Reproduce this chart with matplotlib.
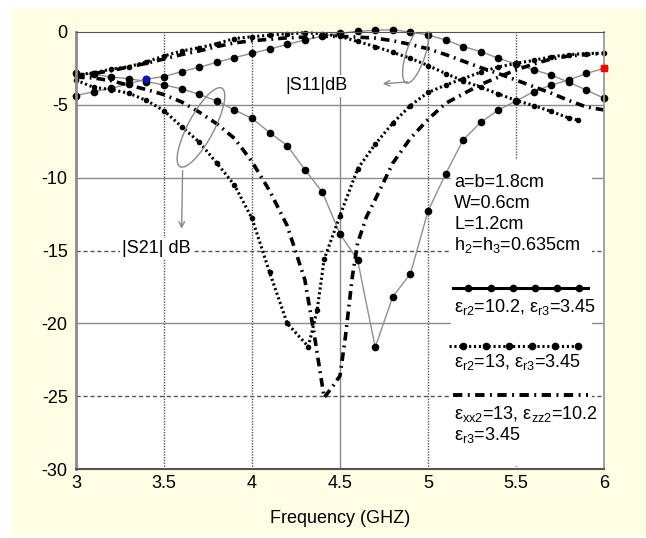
import matplotlib
matplotlib.use('Agg')
import matplotlib.pyplot as plt
from matplotlib.patches import Ellipse, Rectangle
from matplotlib.transforms import IdentityTransform
import numpy as np

plt.rcParams['font.family'] = ['Liberation Sans', 'DejaVu Sans']
plt.rcParams['mathtext.fontset'] = 'custom'
plt.rcParams['mathtext.rm'] = 'Liberation Sans'
plt.rcParams['mathtext.it'] = 'Liberation Sans:italic'
plt.rcParams['mathtext.sf'] = 'Liberation Sans'

# ---------------- data ----------------
freq = [3.0, 3.1, 3.2, 3.3, 3.4, 3.5, 3.6, 3.7, 3.8, 3.9,
        4.0, 4.1, 4.2, 4.3, 4.4, 4.5, 4.6, 4.7, 4.8, 4.9,
        5.0, 5.1, 5.2, 5.3, 5.4, 5.5, 5.6, 5.7, 5.8, 5.9, 6.0]

# config 1: er2=10.2, er3=3.45 (solid grey with dots)
s11_c1 = [-4.37, -4.10, -3.87, -3.55, -3.23, -3.06, -2.72, -2.42, -2.08, -1.76,
          -1.46, -1.17, -0.85, -0.55, -0.28, -0.10, 0.05, 0.12, 0.15, 0.0,
          -0.2, -0.55, -1.0, -1.35, -1.8, -2.2, -2.6, -2.95, -3.45, -3.98, -4.55]
s21_c1 = [-2.83, -2.9, -3.1, -3.2, -3.4, -3.64, -3.9, -4.28, -4.74, -5.35,
          -5.93, -6.9, -7.8, -9.45, -11.0, -13.86, -15.65, -21.64, -18.17, -16.6,
          -12.3, -9.75, -7.4, -6.2, -5.35, -4.74, -4.1, -3.64, -3.3, -2.84, -2.5]

# config 2: er2=13, er3=3.45 (dotted)
f_s11_c2 = [3.0, 3.1, 3.2, 3.3, 3.4, 3.5, 3.6, 3.7, 3.8, 3.9,
            4.0, 4.1, 4.2, 4.3, 4.4, 4.5, 4.6, 4.7, 4.8, 4.9,
            5.0, 5.1, 5.2, 5.3, 5.4, 5.5, 5.6, 5.7, 5.8, 5.85]
s11_c2 = [-2.95, -2.8, -2.55, -2.38, -2.05, -1.65, -1.3, -1.08, -0.8, -0.45,
          -0.32, -0.22, -0.12, -0.05, -0.12, -0.3, -0.65, -1.0, -1.4, -1.8,
          -2.3, -2.85, -3.35, -3.8, -4.25, -4.7, -5.05, -5.45, -5.9, -6.05]
f_s21_c2 = [3.0, 3.1, 3.2, 3.3, 3.4, 3.5, 3.6, 3.7, 3.8, 3.9, 4.0, 4.1, 4.2,
            4.32, 4.37, 4.41,
            4.5, 4.6, 4.7, 4.8, 4.9, 5.0, 5.1, 5.2, 5.3, 5.4, 5.5, 5.6, 5.7, 5.8, 5.9, 6.0]
s21_c2 = [-3.3, -3.8, -3.95, -4.2, -4.7, -5.4, -6.5, -7.55, -9.0, -10.5, -12.8, -16.5, -20.0,
          -21.6, -19.1, -15.6,
          -12.6, -9.4, -7.7, -6.25, -5.05, -4.15, -3.65, -3.2, -2.75, -2.4, -2.15, -1.95, -1.7, -1.55, -1.48, -1.45]

# config 3: exx2=13, ezz2=10.2, er3=3.45 (dash-dot)
s11_c3 = [-3.0, -2.85, -2.65, -2.4, -2.15, -1.85, -1.55, -1.3, -1.0, -0.75,
          -0.6, -0.5, -0.4, -0.35, -0.3, -0.3, -0.35, -0.42, -0.6, -0.85,
          -1.15, -1.55, -2.0, -2.45, -2.85, -3.3, -3.75, -4.2, -4.7, -5.15, -5.35]
f_s21_c3 = [3.0, 3.1, 3.2, 3.3, 3.4, 3.5, 3.6, 3.7, 3.8, 3.9, 4.0, 4.1, 4.2, 4.3,
            4.35, 4.41, 4.46, 4.5, 4.53, 4.57, 4.6, 4.65, 4.7,
            4.8, 4.9, 5.0, 5.1, 5.2, 5.3, 5.4, 5.5, 5.6, 5.7, 5.8, 5.9, 6.0]
s21_c3 = [-3.1, -3.15, -3.35, -3.65, -3.95, -4.3, -4.8, -5.5, -6.3, -7.3, -8.9, -10.9, -13.3, -17.0,
          -20.5, -25.1, -24.3, -23.6, -21.0, -16.8, -14.5, -12.7, -11.5,
          -9.0, -7.3, -6.0, -4.9, -4.25, -3.6, -3.1, -2.6, -2.2, -1.85, -1.65, -1.55, -1.46]

xticks = [3, 3.5, 4, 4.5, 5, 5.5, 6]
xticklabels = ['3', '3.5', '4', '4.5', '5', '5.5', '6']
yticks = [0, -5, -10, -15, -20, -25, -30]
yticklabels = ['0', '-5', '-10', '-15', '-20', '-25', '-30']

# ---------------- figure ----------------
W, H = 646, 538
fig = plt.figure(figsize=(W / 100, H / 100), dpi=100)
fig.patch.set_facecolor('white')
fig.patches.append(Rectangle((12 / W, 1 - 536 / H), (W - 12) / W, (536 - 8) / H,
                             transform=fig.transFigure, facecolor='#FFFDE4',
                             edgecolor='none', zorder=-10))

ax = fig.add_axes([76 / W, 1 - 469 / H, (604 - 76) / W, (469 - 32) / H])
ax.set_facecolor('white')
ax.set_xlim(3, 6)
ax.set_ylim(-30, 0)
ax.set_xticks(xticks)
ax.set_xticklabels(xticklabels)
ax.set_yticks(yticks)
ax.set_yticklabels(yticklabels)
ax.tick_params(length=0, labelsize=13)
ax.tick_params(axis='y', pad=6)
ax.tick_params(axis='x', pad=4)
ax.set_xlabel('Frequency (GHZ)', fontsize=13, labelpad=13)

# grid
for x in [3.5, 4.0, 5.0, 5.5]:
    ax.axvline(x, color='#555555', lw=1.0, ls=(0, (1, 1)), zorder=0.5)
ax.axvline(4.5, color='#8a8a8a', lw=1.0, zorder=0.5)
for y in [-5, -10, -20]:
    ax.axhline(y, color='#8a8a8a', lw=1.0, zorder=0.5)
for y in [-15, -25]:
    ax.axhline(y, color='#555555', lw=1.0, ls=(0, (3, 2)), zorder=0.5)

# spines
ax.spines['left'].set_color('#8a8a8a'); ax.spines['left'].set_linewidth(2.0)
ax.spines['right'].set_color('#9a9a9a'); ax.spines['right'].set_linewidth(1.3)
ax.spines['top'].set_color('#555555'); ax.spines['top'].set_linestyle((0, (1, 1)))
ax.spines['bottom'].set_color('#555555'); ax.spines['bottom'].set_linestyle((0, (2, 1)))
ax.spines['bottom'].set_linewidth(1.5)

# white legend background
ax.add_patch(Rectangle((5.13, -29.8), 0.8, 21.0, facecolor='white', edgecolor='none', zorder=0.8))

DASHDOT = (0, (2.4, 1.4, 0.5, 1.4))
DOTTED = (0, (0.7, 0.9))

# config 1
ax.plot(freq, s11_c1, color='#909090', lw=1.0, marker='o', ms=4.5,
        mfc='black', mec='black', zorder=2, clip_on=False)
ax.plot(freq, s21_c1, color='#909090', lw=1.0, marker='o', ms=4.5,
        mfc='black', mec='black', zorder=2, clip_on=False)
# config 2
ax.plot(f_s11_c2, s11_c2, color='black', lw=2.2, ls=DOTTED, dash_capstyle='butt',
        marker='o', ms=3, zorder=2, clip_on=False)
ax.plot(f_s21_c2, s21_c2, color='black', lw=2.2, ls=DOTTED, dash_capstyle='butt',
        marker='o', ms=3, zorder=2, clip_on=False)
# config 3
ax.plot(freq, s11_c3, color='black', lw=2.6, ls=DASHDOT, zorder=2, clip_on=False)
ax.plot(f_s21_c3, s21_c3, color='black', lw=2.6, ls=DASHDOT, zorder=2, clip_on=False)

# coloured markers
ax.plot([freq[4]], [s11_c1[4]], 'o', color='#1010c0', ms=4.5, zorder=3)
ax.plot([freq[-1]], [s21_c1[-1]], 's', color='red', ms=4.5, zorder=3, clip_on=False)

# labels
ax.text(4.19, -3.7, '|S11|dB', fontsize=13, va='center', ha='left', zorder=3,
        bbox=dict(facecolor='white', edgecolor='none', pad=1.5))
ax.text(3.26, -14.85, '|S21| dB', fontsize=13, va='center', ha='left', zorder=3,
        bbox=dict(facecolor='white', edgecolor='none', pad=1.5))

fig.canvas.draw()
def px(x, y):
    return ax.transData.transform((x, y))

e1 = Ellipse(px(4.93, -1.51), 61, 19, angle=72, transform=IdentityTransform(),
             facecolor='none', edgecolor='#8a8a8a', lw=1.0, zorder=3)
ax.add_patch(e1)
e2 = Ellipse(px(3.71, -6.55), 89, 26, angle=62, transform=IdentityTransform(),
             facecolor='none', edgecolor='#8a8a8a', lw=1.0, zorder=3)
ax.add_patch(e2)
ax.annotate('', xy=(4.727, -3.57), xytext=(4.90, -3.41),
            arrowprops=dict(arrowstyle='->', color='#8a8a8a', lw=1.0), zorder=3)
ax.annotate('', xy=(3.60, -13.7), xytext=(3.606, -9.33),
            arrowprops=dict(arrowstyle='->', color='#8a8a8a', lw=1.0), zorder=3)

# legend block
lx = 5.15
for i, s in enumerate(['a=b=1.8cm', 'W=0.6cm', 'L=1.2cm', 'h$_{2}$=h$_{3}$=0.635cm']):
    ax.text(lx, -10.3 - i * 1.45, s, fontsize=13, va='center', ha='left', zorder=3)

ax.plot([5.14, 5.91], [-17.6, -17.6], color='black', lw=2.2, zorder=3)
ax.plot(np.linspace(5.23, 5.86, 6), [-17.6] * 6, 'o', color='black', ms=4.5, zorder=3)
ax.text(lx, -18.85, 'ε$_{\\mathrm{r2}}$=10.2, ε$_{\\mathrm{r3}}$=3.45', fontsize=13,
        va='center', ha='left', zorder=3)

ax.plot([5.12, 5.87], [-21.55, -21.55], color='black', lw=2.2, ls=DOTTED,
        dash_capstyle='butt', zorder=3)
ax.plot(np.linspace(5.2, 5.85, 6), [-21.55] * 6, 'o', color='black', ms=4.5, zorder=3)
ax.text(lx, -22.65, 'ε$_{\\mathrm{r2}}$=13, ε$_{\\mathrm{r3}}$=3.45', fontsize=13,
        va='center', ha='left', zorder=3)

ax.plot([5.14, 5.91], [-24.9, -24.9], color='black', lw=2.8, ls=DASHDOT, zorder=3)
ax.text(lx, -26.2, 'ε$_{\\mathrm{xx2}}$=13, ε$_{\\mathrm{zz2}}$=10.2', fontsize=13,
        va='center', ha='left', zorder=3)
ax.text(lx, -27.7, 'ε$_{\\mathrm{r3}}$=3.45', fontsize=13, va='center', ha='left', zorder=3)

fig.savefig('out.png', dpi=100, facecolor=fig.get_facecolor())
